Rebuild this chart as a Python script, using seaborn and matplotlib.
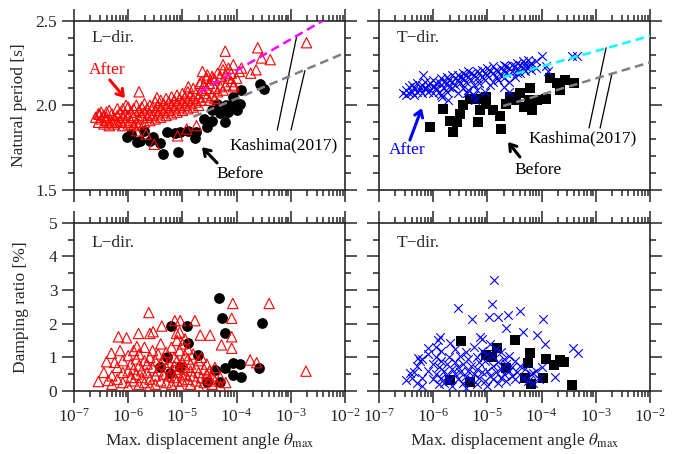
import numpy as np
import pandas as pd
import matplotlib
matplotlib.use("Agg")
import matplotlib.pyplot as plt
import seaborn as sns
from matplotlib.ticker import LogLocator, MultipleLocator, NullFormatter, LogFormatterSciNotation, FormatStrFormatter

# ---------------- data (theta given as log10 values) ----------------
# L-dir, natural period, after retrofit (red triangles)
l_after_lx = [-6.53, -5.80, -5.47, -4.21, -3.61, -3.54, -3.38, -2.71, -3.64, -3.74, -3.91, -4.25, -4.63, -4.54,
              -4.06, -4.06, -4.15, -4.43, -4.68, -4.89, -5.52, -5.67, -5.84, -5.09, -4.92, -4.74, -6.35, -6.04,
              -6.60, -6.55, -6.55, -6.50, -6.50, -6.45, -6.45, -6.40, -6.40, -6.40,
              -6.35, -6.35, -6.30, -6.30, -6.25, -6.25, -6.20, -6.20, -6.20, -6.15, -6.15,
              -6.10, -6.10, -6.10, -6.05, -6.05, -6.00, -6.00, -6.00, -5.95, -5.95,
              -5.90, -5.90, -5.90, -5.85, -5.85, -5.80, -5.80, -5.80, -5.75, -5.75,
              -5.70, -5.70, -5.70, -5.65, -5.65, -5.60, -5.60, -5.60, -5.55, -5.55,
              -5.50, -5.50, -5.50, -5.45, -5.45, -5.40, -5.40, -5.40, -5.35, -5.35,
              -5.30, -5.30, -5.30, -5.25, -5.25, -5.20, -5.20, -5.20, -5.15, -5.15,
              -5.10, -5.10, -5.10, -5.05, -5.05, -5.00, -5.00, -5.00, -4.95, -4.95,
              -4.90, -4.90, -4.90, -4.85, -4.85, -4.80, -4.80, -4.80, -4.75, -4.75,
              -4.70, -4.70, -4.65, -4.65, -4.65, -4.60, -4.60, -4.55, -4.55, -4.55,
              -4.50, -4.50, -4.45, -4.45, -4.40, -4.40, -4.40, -4.35, -4.35, -4.30, -4.30,
              -4.25, -4.25, -4.20, -4.20, -4.15, -4.10, -4.10, -4.05, -4.00, -3.95]
l_after_T = [1.947, 2.08, 2.045, 2.32, 2.34, 2.28, 2.27, 2.37, 2.21, 2.19, 2.22, 2.24, 2.20, 2.18,
             2.24, 2.11, 2.16, 2.16, 2.13, 2.11, 1.77, 1.83, 1.85, 1.82, 1.86, 1.88, 1.90, 2.00,
             1.93, 1.90, 1.95, 1.92, 1.96, 1.89, 1.94, 1.91, 1.96, 1.93,
             1.88, 1.97, 1.90, 1.95, 1.92, 1.89, 1.94, 1.90, 1.98, 1.91, 1.96,
             1.88, 1.93, 1.98, 1.90, 1.95, 1.89, 1.94, 1.99, 1.91, 1.96,
             1.88, 1.93, 1.98, 1.90, 2.00, 1.92, 1.97, 1.89, 1.94, 1.99,
             1.90, 1.96, 2.01, 1.93, 1.98, 1.91, 1.95, 2.00, 1.94, 1.99,
             1.92, 1.97, 2.02, 1.95, 2.00, 1.93, 1.98, 2.03, 1.96, 2.01,
             1.94, 1.99, 2.04, 1.97, 2.02, 1.95, 2.00, 2.05, 1.98, 2.03,
             1.96, 2.01, 2.06, 1.99, 2.04, 1.97, 2.02, 2.07, 2.00, 2.05,
             1.98, 2.03, 2.08, 2.01, 2.06, 1.99, 2.04, 2.10, 2.02, 2.07,
             2.00, 2.05, 2.03, 2.09, 2.14, 2.07, 2.12, 2.05, 2.10, 2.16,
             2.03, 2.13, 2.06, 2.17, 2.04, 2.10, 2.15, 2.08, 2.19, 2.11, 2.17,
             2.09, 2.21, 2.12, 2.18, 2.22, 2.14, 2.19, 2.12, 2.16, 2.20]

# L-dir, natural period, before retrofit (black circles)
l_before_lx = [-6.03, -5.84, -5.78, -5.35, -5.09, -5.54, -5.41, -5.29, -5.14, -4.77, -4.74, -4.55, -4.46, -4.21,
               -4.30, -4.16, -4.00, -3.94, -4.06, -3.91, -3.57, -3.50, -4.37, -4.19, -5.60, -5.05, -4.90, -5.70,
               -5.95, -4.60, -4.45, -4.10]
l_before_T = [1.815, 1.785, 1.79, 1.71, 1.726, 1.815, 1.775, 1.845, 1.835, 1.81, 1.84, 1.87, 1.91, 1.90,
              1.955, 1.96, 1.97, 2.01, 2.05, 2.09, 2.126, 2.095, 2.01, 2.00, 1.79, 1.845, 1.85, 1.85,
              1.83, 1.92, 1.97, 2.00]

# T-dir, natural period, after (blue crosses)
t_after_lx = [-6.50, -6.18, -4.00, -3.91, -3.88, -3.35, -3.44, -4.21, -4.30, -4.45, -5.23, -5.38, -4.60, -4.70,
              -5.84, -5.72, -6.14,
              -6.55, -6.50, -6.45, -6.45, -6.40, -6.40, -6.35, -6.35, -6.30, -6.30,
              -6.25, -6.25, -6.20, -6.20, -6.15, -6.15, -6.10, -6.10, -6.05, -6.05,
              -6.00, -6.00, -6.00, -5.95, -5.95, -5.90, -5.90, -5.85, -5.85, -5.85,
              -5.80, -5.80, -5.75, -5.75, -5.75, -5.70, -5.70, -5.65, -5.65, -5.65,
              -5.60, -5.60, -5.55, -5.55, -5.55, -5.50, -5.50, -5.45, -5.45, -5.45,
              -5.40, -5.40, -5.35, -5.35, -5.35, -5.30, -5.30, -5.25, -5.25, -5.25,
              -5.20, -5.20, -5.20, -5.15, -5.15, -5.10, -5.10, -5.05, -5.05, -5.05,
              -5.00, -5.00, -4.95, -4.95, -4.90, -4.90, -4.90, -4.85, -4.85, -4.80,
              -4.80, -4.75, -4.75, -4.70, -4.70, -4.70, -4.65, -4.65, -4.60, -4.60,
              -4.55, -4.55, -4.50, -4.50, -4.45, -4.45, -4.40, -4.40, -4.35, -4.35,
              -4.30, -4.30, -4.25, -4.25, -4.20, -4.20, -4.10, -4.10]
t_after_T = [2.06, 2.18, 2.29, 2.23, 2.20, 2.29, 2.29, 2.24, 2.23, 2.19, 2.03, 2.07, 2.08, 2.11,
             2.05, 2.03, 2.10,
             2.07, 2.09, 2.11, 2.07, 2.08, 2.12, 2.10, 2.06, 2.13, 2.08,
             2.09, 2.11, 2.12, 2.07, 2.10, 2.14, 2.08, 2.12, 2.13, 2.09,
             2.11, 2.15, 2.07, 2.10, 2.13, 2.14, 2.08, 2.12, 2.16, 2.06,
             2.10, 2.14, 2.13, 2.17, 2.08, 2.11, 2.15, 2.14, 2.10, 2.18,
             2.12, 2.16, 2.15, 2.07, 2.18, 2.13, 2.17, 2.16, 2.10, 2.19,
             2.14, 2.18, 2.17, 2.09, 2.20, 2.15, 2.19, 2.18, 2.12, 2.06,
             2.16, 2.20, 2.09, 2.19, 2.13, 2.17, 2.21, 2.15, 2.19, 2.08,
             2.18, 2.22, 2.12, 2.20, 2.19, 2.14, 2.23, 2.17, 2.21, 2.15,
             2.20, 2.18, 2.22, 2.21, 2.16, 2.24, 2.19, 2.23, 2.22, 2.14,
             2.20, 2.24, 2.23, 2.17, 2.21, 2.25, 2.24, 2.19, 2.22, 2.26,
             2.20, 2.25, 2.23, 2.27, 2.25, 2.21, 2.26, 2.22]

# T-dir, natural period, before (black squares)
t_before_lx = [-6.06, -5.63, -5.57, -5.69, -5.81, -5.51, -5.45, -5.33, -5.17, -5.14, -5.02, -4.89, -4.77, -4.74,
               -4.65, -4.59, -4.47, -4.40, -4.21, -4.24, -4.18, -4.09, -3.91, -3.85, -3.72, -3.57, -3.66, -3.41,
               -4.33, -5.02, -5.20]
t_before_T = [1.87, 1.84, 1.90, 1.91, 1.98, 1.95, 2.00, 2.04, 1.90, 1.97, 2.01, 1.97, 1.94, 1.86,
              2.01, 2.05, 2.03, 2.07, 2.10, 2.03, 1.97, 2.03, 2.04, 2.16, 2.13, 2.15, 2.09, 2.13,
              1.99, 2.05, 2.04]

# L-dir, damping ratio [%]
l_after_dlx = [-5.62, -4.07, -3.40, -4.09, -2.72, -6.18, -6.03, -5.81, -5.38, -5.14, -5.04, -4.77, -5.11, -4.67,
               -4.49, -4.09, -4.09, -4.28, -3.75, -3.63, -6.31, -6.55, -6.37, -6.40, -5.60, -5.54, -5.84,
               -6.30, -6.30, -6.20, -6.20, -6.10, -6.10, -6.10, -6.00, -6.00, -6.00,
               -5.95, -5.95, -5.90, -5.90, -5.90, -5.85, -5.85, -5.80, -5.80, -5.80,
               -5.75, -5.75, -5.70, -5.70, -5.70, -5.65, -5.65, -5.60, -5.60, -5.60,
               -5.55, -5.55, -5.50, -5.50, -5.50, -5.45, -5.45, -5.40, -5.40, -5.40,
               -5.35, -5.35, -5.30, -5.30, -5.30, -5.25, -5.25, -5.20, -5.20, -5.20,
               -5.15, -5.15, -5.15, -5.10, -5.10, -5.10, -5.10, -5.05, -5.05, -5.05,
               -5.00, -5.00, -5.00, -5.00, -4.95, -4.95, -4.95, -4.90, -4.90, -4.90,
               -4.85, -4.85, -4.85, -4.80, -4.80, -4.75, -4.75, -4.70, -4.70, -4.70,
               -4.65, -4.65, -4.60, -4.60, -4.55, -4.55, -4.50, -4.50, -4.45, -4.45,
               -4.40, -4.40, -4.30, -4.30, -4.20, -6.45, -6.25, -6.15, -5.05, -4.95]
l_after_h = [2.33, 2.60, 2.60, 2.16, 0.59, 1.61, 1.58, 1.71, 1.93, 2.09, 2.09, 2.09, 1.71, 1.66,
             1.66, 1.61, 1.27, 1.37, 0.92, 0.84, 1.12, 0.28, 0.31, 0.87, 1.71, 1.76, 1.32,
             0.45, 0.20, 0.70, 0.35, 0.90, 0.25, 0.55, 0.60, 1.05, 0.15,
             0.40, 0.80, 1.20, 0.30, 0.65, 0.50, 0.95, 0.20, 0.75, 1.10,
             0.40, 0.60, 0.90, 0.25, 1.30, 0.55, 0.80, 0.35, 1.00, 0.15,
             0.70, 1.20, 0.45, 0.90, 0.20, 0.60, 1.10, 0.30, 0.80, 1.40,
             0.50, 0.95, 0.25, 0.70, 1.15, 0.45, 0.85, 0.60, 1.30, 0.20,
             0.40, 1.00, 0.75, 0.55, 1.50, 0.30, 0.90, 0.65, 1.20, 0.15,
             0.45, 0.85, 1.40, 0.30, 0.70, 1.05, 0.50, 0.35, 0.95, 1.25,
             0.60, 0.20, 0.80, 0.45, 1.10, 0.30, 0.70, 0.55, 0.90, 0.15,
             0.40, 1.00, 0.25, 0.65, 0.50, 0.80, 0.35, 0.60, 0.20, 0.45,
             0.30, 0.70, 0.15, 0.40, 0.25, 0.55, 0.85, 1.20, 1.75, 1.55]
l_before_dlx = [-4.32, -4.27, -4.21, -3.54, -5.21, -4.92, -4.89, -4.71, -4.06, -3.94, -4.06, -3.91, -3.58, -4.21,
                -4.40, -4.55, -4.31, -5.41, -5.29, -5.23, -5.04]
l_before_h = [2.75, 2.16, 1.71, 2.01, 1.93, 1.93, 1.42, 1.07, 0.82, 0.79, 0.48, 0.43, 0.67, 0.67,
              0.62, 0.28, 0.28, 0.72, 1.02, 0.52, 0.72]

# T-dir, damping ratio [%]
t_after_dlx = [-4.88, -4.92, -5.54, -5.29, -4.97, -4.80, -4.62, -4.39, -3.98, -4.65, -4.34, -4.09, -3.94, -3.42,
               -3.32, -5.14, -5.88, -5.91, -6.09, -6.28, -6.50, -6.43, -5.69, -3.75, -4.00, -4.16,
               -6.35, -6.30, -6.30, -6.20, -6.20, -6.20, -6.10, -6.10, -6.00, -6.00,
               -5.95, -5.95, -5.90, -5.90, -5.85, -5.85, -5.85, -5.80, -5.80, -5.75,
               -5.75, -5.70, -5.70, -5.65, -5.65, -5.60, -5.60, -5.60, -5.55, -5.55,
               -5.50, -5.50, -5.45, -5.45, -5.40, -5.40, -5.40, -5.35, -5.35, -5.30,
               -5.30, -5.25, -5.25, -5.20, -5.20, -5.20, -5.15, -5.15, -5.10, -5.10,
               -5.05, -5.05, -5.00, -5.00, -5.00, -4.95, -4.95, -4.90, -4.90, -4.90,
               -4.85, -4.85, -4.80, -4.80, -4.75, -4.75, -4.75, -4.70, -4.70, -4.65,
               -4.65, -4.60, -4.60, -4.55, -4.55, -4.50, -4.50, -4.45, -4.40, -4.35,
               -4.30, -4.25, -4.20, -4.15, -4.10, -4.05, -6.40, -6.25, -5.95, -5.10]
t_after_h = [3.30, 2.58, 2.46, 2.13, 2.21, 2.21, 2.26, 2.38, 2.14, 1.86, 1.76, 1.66, 1.40, 1.27,
             1.12, 1.61, 1.61, 1.51, 1.27, 0.97, 0.33, 0.52, 1.42, 0.43, 0.72, 0.52,
             0.55, 0.25, 0.75, 0.40, 0.95, 0.15, 0.60, 1.10, 0.35, 0.80,
             0.50, 1.00, 0.20, 0.70, 0.40, 0.90, 1.20, 0.60, 0.25, 0.80,
             0.45, 1.00, 0.30, 0.65, 0.15, 0.50, 0.85, 1.25, 0.35, 0.70,
             0.55, 1.05, 0.25, 0.80, 0.45, 1.15, 0.10, 0.60, 0.95, 0.35,
             0.75, 0.50, 1.30, 0.20, 0.65, 1.00, 0.40, 0.85, 0.55, 1.20,
             0.30, 0.90, 0.60, 1.10, 0.15, 0.45, 1.40, 0.75, 0.35, 1.05,
             0.55, 1.25, 0.25, 0.85, 0.65, 1.15, 0.40, 0.50, 0.95, 0.30,
             0.80, 0.60, 1.05, 0.45, 0.70, 0.35, 0.90, 0.55, 0.75, 0.40,
             0.65, 0.30, 0.50, 0.25, 0.60, 0.35, 0.40, 0.90, 1.30, 1.55]
t_before_dlx = [-5.49, -4.49, -4.83, -5.02, -4.22, -3.91, -3.66, -3.59, -3.77, -4.25, -3.97, -4.19, -3.43, -4.31,
                -5.69, -5.33, -4.92, -4.65]
t_before_h = [1.50, 1.51, 1.27, 1.07, 1.12, 0.94, 0.92, 0.85, 0.77, 0.82, 0.38, 0.20, 0.18, 0.38,
              0.33, 0.28, 1.02, 0.67]

# Kashima (2017) reference lines (theta, period)
kashima_l_after_theta = [2.1e-5, 3.9e-3]
kashima_l_after_T = [2.08, 2.50]
kashima_l_before_theta = [1.6e-5, 1e-2]
kashima_l_before_T = [1.933, 2.31]
kashima_t_after_theta = [1.95e-5, 1e-2]
kashima_t_after_T = [2.166, 2.41]
kashima_t_before_theta = [1.95e-5, 1e-2]
kashima_t_before_T = [1.996, 2.254]


def to_df(lx, y):
    return pd.DataFrame({"theta": 10.0 ** np.asarray(lx), "val": y})


# ---------------- style ----------------
sns.set_style("ticks")
plt.rcParams["font.family"] = ["Liberation Serif", "DejaVu Serif"]
plt.rcParams["mathtext.fontset"] = "stix"
plt.rcParams["axes.linewidth"] = 1.2

FS = 12.5
fig = plt.figure(figsize=(6.78, 4.54), dpi=100)
ax_tl = fig.add_axes([74 / 678, 1 - 190 / 454, 271 / 678, 169.3 / 454])
ax_tr = fig.add_axes([379 / 678, 1 - 190 / 454, 271 / 678, 169.3 / 454])
ax_bl = fig.add_axes([74 / 678, 1 - 391 / 454, 271 / 678, 168.3 / 454])
ax_br = fig.add_axes([379 / 678, 1 - 391 / 454, 271 / 678, 168.3 / 454])

tri_kw = dict(marker="^", s=55, facecolor="none", edgecolor="red", linewidth=0.8, legend=False, zorder=3)
cir_kw = dict(marker="o", s=60, color="black", edgecolor="black", linewidth=0, legend=False, zorder=2)
crs_kw = dict(marker="x", s=38, color="blue", linewidth=0.8, legend=False, zorder=3)
sqr_kw = dict(marker="s", s=62, color="black", edgecolor="black", linewidth=0, legend=False, zorder=2)

# top row: natural period
sns.scatterplot(data=to_df(l_before_lx, l_before_T), x="theta", y="val", ax=ax_tl, **cir_kw)
sns.scatterplot(data=to_df(l_after_lx, l_after_T), x="theta", y="val", ax=ax_tl, **tri_kw)
sns.scatterplot(data=to_df(t_before_lx, t_before_T), x="theta", y="val", ax=ax_tr, **sqr_kw)
sns.scatterplot(data=to_df(t_after_lx, t_after_T), x="theta", y="val", ax=ax_tr, **crs_kw)

dash = (0, (3.5, 2))
sns.lineplot(x=kashima_l_after_theta, y=kashima_l_after_T, ax=ax_tl, color="#ff00ff", lw=1.8, linestyle=dash, zorder=5)
sns.lineplot(x=kashima_l_before_theta, y=kashima_l_before_T, ax=ax_tl, color="#808080", lw=1.8, linestyle=dash, zorder=5)
sns.lineplot(x=kashima_t_after_theta, y=kashima_t_after_T, ax=ax_tr, color="#00ffff", lw=1.8, linestyle=dash, zorder=5)
sns.lineplot(x=kashima_t_before_theta, y=kashima_t_before_T, ax=ax_tr, color="#808080", lw=1.8, linestyle=dash, zorder=5)

# bottom row: damping ratio
sns.scatterplot(data=to_df(l_before_dlx, l_before_h), x="theta", y="val", ax=ax_bl, **cir_kw)
sns.scatterplot(data=to_df(l_after_dlx, l_after_h), x="theta", y="val", ax=ax_bl, **tri_kw)
sns.scatterplot(data=to_df(t_before_dlx, t_before_h), x="theta", y="val", ax=ax_br, **sqr_kw)
sns.scatterplot(data=to_df(t_after_dlx, t_after_h), x="theta", y="val", ax=ax_br, **crs_kw)

for ax in [ax_tl, ax_tr, ax_bl, ax_br]:
    ax.set_xscale("log")
    ax.set_xlim(1e-7, 1e-2)
    ax.xaxis.set_major_locator(LogLocator(base=10, numticks=10))
    ax.xaxis.set_minor_locator(LogLocator(base=10, subs=np.arange(2, 10), numticks=20))
    ax.xaxis.set_minor_formatter(NullFormatter())
    ax.xaxis.set_major_formatter(LogFormatterSciNotation())
    ax.tick_params(which="both", direction="out", top=True, right=True, labelsize=FS, width=1.1)
    ax.tick_params(which="major", length=8.5)
    ax.tick_params(which="minor", length=4)
    ax.set_xlabel("")
    ax.set_ylabel("")
    for sp in ax.spines.values():
        sp.set_linewidth(1.2)

for ax in [ax_tl, ax_tr]:
    ax.set_ylim(1.5, 2.5)
    ax.yaxis.set_major_locator(MultipleLocator(0.5))
    ax.yaxis.set_minor_locator(MultipleLocator(0.1))
    ax.yaxis.set_major_formatter(FormatStrFormatter("%.1f"))
    ax.tick_params(labelbottom=False)
for ax in [ax_bl, ax_br]:
    ax.set_ylim(0, 5)
    ax.yaxis.set_major_locator(MultipleLocator(1))
    ax.yaxis.set_minor_locator(MultipleLocator(0.5))
    ax.set_xlabel(r"Max. displacement angle $\theta_{\rm max}$", fontsize=FS, labelpad=4)
for ax in [ax_tr, ax_br]:
    ax.tick_params(labelleft=False)

ax_tl.set_ylabel("Natural period [s]", fontsize=FS, labelpad=6)
ax_bl.set_ylabel("Damping ratio [%]", fontsize=FS, labelpad=14)

# panel titles
for ax, lab, ypos in [(ax_tl, "L\u2212dir.", 0.895), (ax_tr, "T\u2212dir.", 0.895),
                      (ax_bl, "L\u2212dir.", 0.88), (ax_br, "T\u2212dir.", 0.88)]:
    ax.text(0.065, ypos, lab, transform=ax.transAxes, fontsize=FS, ha="left", va="center")

# annotations
arrow = dict(arrowstyle="->,head_length=0.45,head_width=0.3", lw=2.2, shrinkA=0, shrinkB=0)
ax_tl.annotate("", xy=(10 ** -6.06, 2.043), xytext=(10 ** -6.34, 2.15),
               arrowprops=dict(arrow, color="red"))
ax_tl.text(10 ** -6.39, 2.21, "After", color="red", fontsize=FS, ha="center", va="center")
ax_tl.annotate("", xy=(10 ** -4.64, 1.753), xytext=(10 ** -4.36, 1.66),
               arrowprops=dict(arrow, color="black"))
ax_tl.text(10 ** -3.94, 1.594, "Before", color="black", fontsize=FS, ha="center", va="center")
ax_tl.text(10 ** -3.13, 1.765, "Kashima(2017)", color="black", fontsize=FS, ha="center", va="center")
ax_tl.plot([10 ** -3.25, 10 ** -2.89], [1.854, 2.41], color="black", lw=0.9)
ax_tl.plot([10 ** -2.996, 10 ** -2.74], [1.854, 2.205], color="black", lw=0.9)

ax_tr.annotate("", xy=(10 ** -6.21, 1.984), xytext=(10 ** -6.43, 1.795),
               arrowprops=dict(arrow, color="blue"))
ax_tr.text(10 ** -6.48, 1.735, "After", color="blue", fontsize=FS, ha="center", va="center")
ax_tr.annotate("", xy=(10 ** -4.62, 1.784), xytext=(10 ** -4.40, 1.695),
               arrowprops=dict(arrow, color="black"))
ax_tr.text(10 ** -4.07, 1.617, "Before", color="black", fontsize=FS, ha="center", va="center")
ax_tr.text(10 ** -3.25, 1.807, "Kashima(2017)", color="black", fontsize=FS, ha="center", va="center")
ax_tr.plot([10 ** -3.125, 10 ** -2.81], [1.866, 2.34], color="black", lw=0.9)
ax_tr.plot([10 ** -2.92, 10 ** -2.70], [1.866, 2.19], color="black", lw=0.9)

fig.savefig("out.png", dpi=100)
